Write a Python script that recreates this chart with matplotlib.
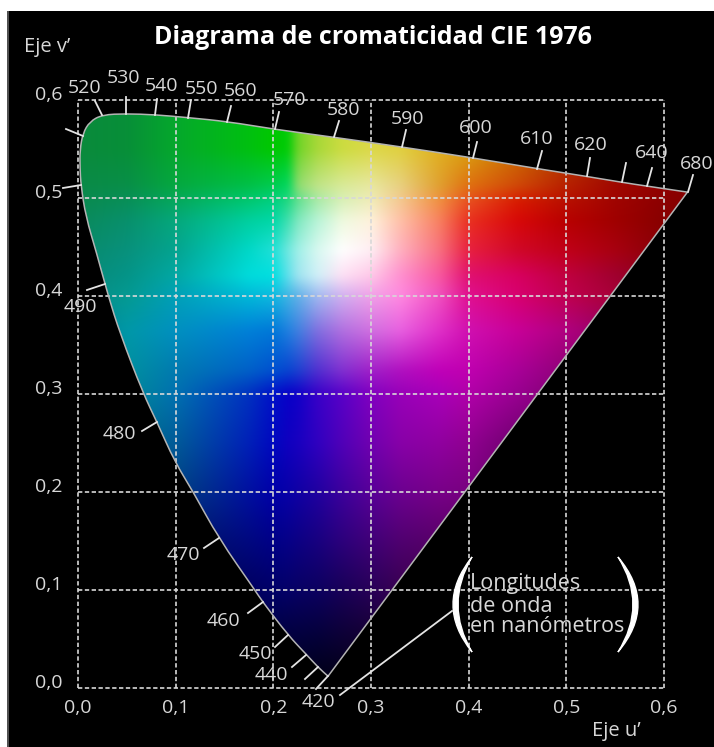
import numpy as np
import matplotlib
matplotlib.use("Agg")
import matplotlib.pyplot as plt
from matplotlib.colors import to_rgb
from matplotlib.patches import Rectangle, PathPatch
from matplotlib.path import Path

plt.rcParams['font.family'] = ['Open Sans', 'DejaVu Sans']

TITLE = "Diagrama de cromaticidad CIE 1976"
TICKS = [0.0, 0.1, 0.2, 0.3, 0.4, 0.5, 0.6]
TICK_LABELS = ["0,0", "0,1", "0,2", "0,3", "0,4", "0,5", "0,6"]

# spectral locus
LOCUS_U = [.256,.246,.234,.215,.189,.181,.144,.118,.099,.081,.0665,.043,.031,.019,.008,.003,.002,.002,.005,.012,.025,.049,.079,.113,.153,.202,.262,.332,.404,.470,.521,.557,.583,.624]
LOCUS_V = [.012,.021,.034,.054,.088,.100,.153,.200,.231,.271,.301,.362,.400,.444,.481,.513,.532,.549,.566,.578,.585,.586,.585,.582,.578,.570,.562,.552,.541,.530,.522,.516,.512,.506]

# wavelength labels: text, and where it sits in the figure (pixels)
WL_TEXT = ["520","530","540","550","560","570","580","590","600","610","620","640","680","490","480","470","460","450","440","420"]
WL_X = [85,124,162,202,241,289,343,407,476,537,591,652,697,80,119,183,223,255,271,318]
WL_Y = [88,78,86,89,91,100,110,119,128,139,145,153,164,307,434,555,621,654,675,702]

# wavelength tick marks (pixels: on locus -> outer end)
TK_X0 = [83,81,105,102,126,155,188,227,275,334,402,473,537,587,622,647,688,157,219,263,288,306,318,328,340]
TK_Y0 = [136,185,284,115,114,115,118,122,129,137,147,158,169,176,182,186,192,422,538,602,635,655,667,676,695]
TK_X1 = [66,63,87,95,126,157,191,231,279,339,406,477,542,590,626,652,693,142,204,248,275,292,305,316,452]
TK_Y1 = [129,188,290,101,97,99,100,106,112,121,130,142,151,158,163,168,175,431,548,613,647,667,679,689,611]

# colour field sampled by eye
FIELD_U = [0,.05,.1,.175,.2,.215,.225,.245,.27,.3,.33,.37,.4,.45,.5,.55,.6,.65]
FIELD_V = [.6,.55,.513,.498,.477,.447,.421,.4,.365,.324,.3,.25,.2,.15,.1,.05,0]
FIELD = [
 "#0a8a3c #078f38 #05a82c #00c010 #00c800 #00cc08 #70d428 #a8d838 #ccdc40 #dcd848 #e0d040 #e0b020 #d8a010 #c87000 #b04000 #a01800 #900000 #800000".split(),
 "#0a8a3c #078f38 #05a82c #00c010 #00c800 #00cc08 #70d428 #a8d838 #ccdc40 #dcd848 #e0d040 #e0b020 #d8a010 #c87000 #b04000 #a01800 #900000 #800000".split(),
 "#0a8a48 #088f48 #05a840 #00c048 #00cc50 #00d860 #90dc70 #c0e488 #d8ea98 #e8e8a0 #e8d080 #e0a030 #e07010 #d04808 #b82000 #a00800 #900000 #800000".split(),
 "#0a8a50 #088f58 #05a85c #00c870 #00d080 #20d880 #60e090 #a8eaa8 #d8f0b8 #f0ecb8 #f4c890 #f09040 #e85020 #d81c00 #b81000 #a00400 #8c0000 #800000".split(),
 "#0a8a5c #08906c #05a87c #00d0a0 #00d8a8 #40e0b0 #80e8c0 #b8f4d8 #eefadf #fff2dc #ffc0a8 #f88060 #ea3020 #d80808 #b80000 #a00000 #880000 #800000".split(),
 "#088a6c #08917c #04a490 #00d8c8 #20e0d8 #70e8e0 #a0f0e8 #d8f8f0 #ffffff #ffeef4 #ffb0c0 #f87080 #e82040 #d00828 #c00018 #a80010 #880008 #800008".split(),
 "#088a78 #049488 #02a8a4 #00dcdc #00e0e0 #60e0ec #a0e4f0 #d0f0f8 #fde0f4 #ffc8e8 #ff90d0 #f858a0 #e01070 #d80060 #c00040 #a00030 #880018 #700010".split(),
 "#088a84 #049a92 #00a0b8 #00b8d8 #10b8e0 #40b4e4 #60b0e8 #a0b8f0 #d0b0f0 #f0a0e8 #ff88e0 #f050c0 #e01090 #d80070 #c00050 #a80038 #880020 #700018".split(),
 "#007a90 #0098a8 #0090c0 #0080d8 #0078d8 #2080e0 #4080e0 #8070e0 #b070e0 #d070e0 #e860e0 #e030c8 #d010b0 #c80098 #b00080 #900060 #700040 #600030".split(),
 "#006a90 #0090a0 #007ab0 #0060c8 #0050d0 #0844d0 #1c40d0 #5030d0 #8030d0 #a020c8 #b010c0 #c000b8 #c000b0 #a80098 #900078 #700060 #600050 #500040".split(),
 "#005880 #008898 #0070b0 #0030c0 #0010c8 #0800c8 #1000c8 #3800c8 #5800c8 #8000c0 #9800b8 #a800b8 #b000a8 #980090 #800070 #700060 #600050 #500040".split(),
 "#004870 #007088 #005a98 #0020b8 #0008c0 #1000c0 #1800c0 #3000c0 #5000b8 #7000b0 #8800a8 #9000a0 #900090 #700070 #600060 #500050 #400040 #300030".split(),
 "#003060 #005470 #004080 #0010a0 #0000a8 #0800a8 #1000a4 #2000a0 #3c009c #580098 #6c0090 #780088 #780080 #600060 #500050 #400040 #300030 #200020".split(),
 "#001850 #002860 #001868 #000880 #000088 #060088 #0c0084 #180080 #2c007c #400078 #500070 #580068 #580060 #400050 #300040 #200030 #200020 #100010".split(),
 "#000838 #000c40 #000848 #000060 #000068 #040068 #080064 #0c0060 #180058 #280058 #380050 #400048 #380048 #300040 #200030 #100020 #100010 #100010".split(),
 "#000020 #000028 #000030 #00003c #000040 #02003c #02003c #040038 #0c0034 #140030 #180028 #180028 #180028 #100020 #100018 #100010 #080008 #080008".split(),
 "#000010 #000010 #000018 #000020 #000020 #000018 #000018 #000010 #000010 #080010 #080010 #080010 #080010 #080010 #080008 #080008 #000000 #000000".split(),
]

W, H = 714, 747
fig = plt.figure(figsize=(W / 100, H / 100), dpi=100, facecolor="white")
L, R, T, B = 78, 664, 100, 688
ax = fig.add_axes([L / W, (H - B) / H, (R - L) / W, (B - T) / H])
ax.patch.set_alpha(0)
for s in ax.spines.values():
    s.set_visible(False)

def fx(px):
    return px / W
def fy(py):
    return 1 - py / H

# black ground with its grey left rim
fig.patches.append(Rectangle((fx(7), 0), 1, fy(11), transform=fig.transFigure, fc="black", ec="none", zorder=-10))
fig.patches.append(Rectangle((fx(7), 0), 1.5 / W, fy(11), transform=fig.transFigure, fc="#505050", ec="none", zorder=-9))

# colour field: resampled to about one pixel per sample, softened, clipped by the locus
rgb = np.array([[to_rgb(c) for c in row] for row in FIELD])
uu = np.linspace(0, .65, 636)
vv = np.linspace(0, .6, 588)
va = np.array(FIELD_V[::-1])
rr = rgb[::-1]
tmp = np.stack([[np.interp(uu, FIELD_U, rr[i, :, k]) for i in range(len(va))] for k in range(3)], axis=-1)
img = np.stack([[np.interp(vv, va, tmp[:, j, k]) for j in range(len(uu))] for k in range(3)], axis=-1)
img = np.transpose(img, (1, 0, 2))  # (v, u, channel), v ascending
sig = 3.5
kx = np.arange(-12, 13)
kern = np.exp(-kx ** 2 / (2 * sig ** 2))
kern /= kern.sum()
def smooth(a, axis):
    pad = [(0, 0)] * 3
    pad[axis] = (12, 12)
    a = np.pad(a, pad, mode="edge")
    a = np.apply_along_axis(lambda m: np.convolve(m, kern, mode="valid"), axis, a)
    return a
img = smooth(smooth(img, 0), 1)

# locus outline as a smooth path through the read points
pts = np.column_stack([LOCUS_U, LOCUS_V])
verts = [pts[0], (pts[0] + pts[1]) / 2]
codes = [Path.MOVETO, Path.LINETO]
for i in range(1, len(pts) - 2):
    verts += [pts[i], (pts[i] + pts[i + 1]) / 2]
    codes += [Path.CURVE3, Path.CURVE3]
verts += [pts[-1], pts[0], pts[0]]
codes += [Path.LINETO, Path.LINETO, Path.CLOSEPOLY]
locus = PathPatch(Path(verts, codes), fc="none", ec="#b4b4b4", lw=1.1, zorder=3, clip_on=False, joinstyle="round")
ax.add_patch(locus)
im = ax.imshow(img, extent=(0, .65, 0, .6), origin="lower", aspect="auto", interpolation="bilinear", zorder=1)
im.set_clip_box(fig.bbox)
im.set_clip_path(locus)
ax.set_xlim(0, .6)
ax.set_ylim(0, .6)

# axes
ax.set_xticks(TICKS, TICK_LABELS)
ax.set_yticks(TICKS, TICK_LABELS)
ax.tick_params(axis="both", length=0, labelsize=14, labelcolor="#d8d8d8")
ax.tick_params(axis="x", pad=8)
ax.tick_params(axis="y", pad=11)
for lab in ax.get_yticklabels():
    lab.set_verticalalignment("baseline")
ax.grid(True, color="#d8d8d8", lw=1.2, linestyle=(0, (2.6, 1.5)), zorder=2)
for g in ax.get_xgridlines() + ax.get_ygridlines():
    g.set_clip_on(False)
    g.set_zorder(2)

# wavelength ticks
for x0, y0, x1, y1 in zip(TK_X0, TK_Y0, TK_X1, TK_Y1):
    fig.add_artist(plt.Line2D([fx(x0), fx(x1)], [fy(y0), fy(y1)], color="#e4e4e4", lw=1.3, transform=fig.transFigure, zorder=4))

for t, x, y in zip(WL_TEXT, WL_X, WL_Y):
    fig.text(fx(x), fy(y), t, color="#d8d8d8", fontsize=14, ha="center", va="center", zorder=5)

fig.text(fx(373), fy(38), TITLE, color="white", fontsize=18, fontweight="bold", ha="center", va="center", zorder=5)
fig.text(fx(47), fy(47), "Eje v\u2019", color="#d8d8d8", fontsize=14.5, ha="center", va="center", zorder=5)
fig.text(fx(616), fy(731), "Eje u\u2019", color="#d8d8d8", fontsize=14.5, ha="center", va="center", zorder=5)
for s, y in zip(["Longitudes", "de onda", "en nan\u00f3metros"], [584, 606, 627]):
    fig.text(fx(470), fy(y), s, color="#d8d8d8", fontsize=15.5, ha="left", va="center", zorder=5)

# the two tapered brackets
def bracket(tip, outer, inner):
    top, bot = 557, 652
    v = [(tip, top), (2 * outer - tip, (top + bot) / 2), (tip, bot), (2 * inner - tip, (top + bot) / 2), (tip, top)]
    c = [Path.MOVETO, Path.CURVE3, Path.CURVE3, Path.CURVE3, Path.CURVE3]
    v = [(fx(a), fy(b)) for a, b in v]
    fig.add_artist(PathPatch(Path(v, c), fc="white", ec="white", lw=1.0, transform=fig.transFigure, zorder=5))
bracket(472, 453, 458)
bracket(618, 638, 633)

fig.savefig("out.png", dpi=100, facecolor="white")
